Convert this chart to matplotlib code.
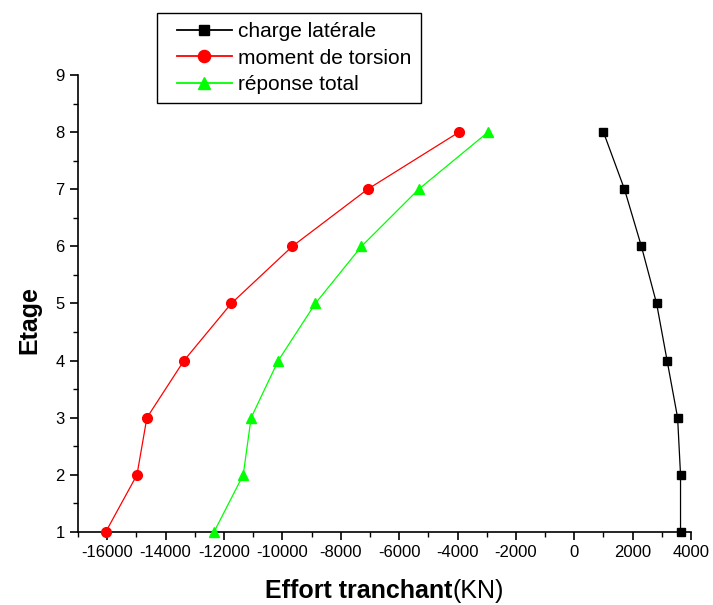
import matplotlib
matplotlib.use("Agg")
import matplotlib.pyplot as plt
from matplotlib.lines import Line2D
from matplotlib.legend_handler import HandlerLine2D
from matplotlib.ticker import MultipleLocator

plt.rcParams['font.family'] = ['Liberation Sans', 'DejaVu Sans']
plt.rcParams['axes.unicode_minus'] = False

etages = [1, 2, 3, 4, 5, 6, 7, 8]
charge_laterale = [3640, 3640, 3540, 3180, 2820, 2300, 1720, 1000]
moment_torsion = [-16050, -14980, -14640, -13370, -11750, -9660, -7080, -3950]
reponse_totale = [-12340, -11340, -11070, -10140, -8870, -7290, -5330, -2955]

W, H = 713, 605
fig = plt.figure(figsize=(W / 100, H / 100), dpi=100)
ax = fig.add_axes([0.1094, 0.1207, 0.8598, 0.7553])

ax.plot(charge_laterale, etages, '-s', color='black', lw=0.9, ms=6,
        label='charge latérale', clip_on=False, zorder=3)
ax.plot(moment_torsion, etages, '-o', color='red', lw=0.9, ms=7,
        label='moment de torsion', clip_on=False, zorder=3)
ax.plot(reponse_totale, etages, '-^', color='#00ff00', lw=0.9, ms=7,
        label='réponse total', clip_on=False, zorder=3)

ax.set_xlim(-17000, 4000)
ax.set_ylim(1, 9)
ax.xaxis.set_major_locator(MultipleLocator(2000))
ax.xaxis.set_minor_locator(MultipleLocator(1000))
ax.yaxis.set_major_locator(MultipleLocator(1))
ax.yaxis.set_minor_locator(MultipleLocator(0.5))

for side in ('top', 'right'):
    ax.spines[side].set_visible(False)
for side in ('left', 'bottom'):
    ax.spines[side].set_linewidth(1.2)

ax.tick_params(which='major', direction='out', length=6, width=1.2, labelsize=12)
ax.tick_params(which='minor', direction='out', length=3.5, width=1.0)

# y axis title
fig.text(29 / W, 1 - 320 / H, 'Etage', rotation=90, ha='center', va='center',
         fontsize=18, fontweight='bold')

# x axis title: bold part followed by the unit in regular weight
renderer = fig.canvas.get_renderer()
y_base = 1 - 598 / H
t1 = fig.text(0, y_base, 'Effort tranchant', fontsize=18, fontweight='bold',
              ha='left', va='baseline')
t2 = fig.text(0, y_base, '(KN)', fontsize=18, ha='left', va='baseline')
w1 = t1.get_window_extent(renderer).width
w2 = t2.get_window_extent(renderer).width
x0 = 384.5 - (w1 + w2) / 2
t1.set_x(x0 / W)
t2.set_x((x0 + w1) / W)

leg = ax.legend(loc='upper left', bbox_to_anchor=(157 / W, 1 - 13 / H),
                bbox_transform=fig.transFigure, borderaxespad=0,
                fancybox=False, edgecolor='black', framealpha=1,
                fontsize=15, handlelength=3.15, handletextpad=0.29,
                labelspacing=0.35, borderpad=0.45, markerscale=1.25,
                handler_map={Line2D: HandlerLine2D(xpad=0.5)})
leg.get_frame().set_linewidth(1.0)
for line in leg.get_lines():
    line.set_linewidth(1.3)

fig.savefig('out.png', dpi=100)
